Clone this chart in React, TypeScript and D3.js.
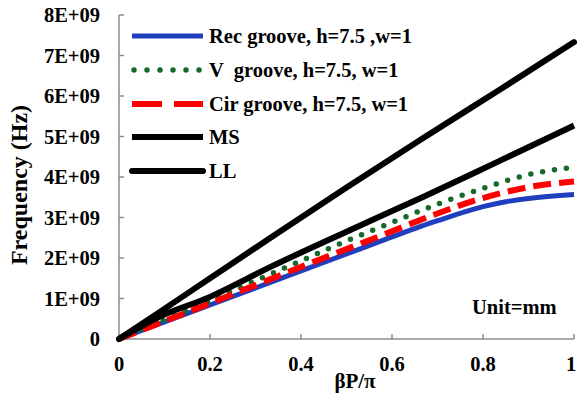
import React from "react";
import * as d3 from "d3";

const xTicks = [0, 0.2, 0.4, 0.6, 0.8, 1];
const xTickLabels = ["0", "0.2", "0.4", "0.6", "0.8", "1"];
const yTicks = [0, 1e9, 2e9, 3e9, 4e9, 5e9, 6e9, 7e9, 8e9];
const yTickLabels = ["0", "1E+09", "2E+09", "3E+09", "4E+09", "5E+09", "6E+09", "7E+09", "8E+09"];

const recX = [0, 0.1, 0.2, 0.3, 0.4, 0.5, 0.6, 0.7, 0.8, 0.85, 0.9, 1];
const recY = [0, 0.42, 0.84, 1.26, 1.68, 2.1, 2.52, 2.92, 3.27, 3.39, 3.47, 3.57];
const vX = [0, 0.1, 0.2, 0.3, 0.4, 0.5, 0.6, 0.7, 0.8, 0.9, 1];
const vY = [0, 0.47, 0.94, 1.44, 1.93, 2.42, 2.88, 3.33, 3.72, 4.06, 4.24];
const cirX = [0, 0.1, 0.2, 0.3, 0.4, 0.5, 0.6, 0.7, 0.8, 0.85, 0.9, 1];
const cirY = [0, 0.44, 0.88, 1.33, 1.78, 2.22, 2.66, 3.1, 3.48, 3.63, 3.75, 3.89];
const msX = [0, 0.083, 0.2, 0.333, 0.5, 0.667, 0.833, 1];
const msY = [0, 0.52, 1.04, 1.78, 2.65, 3.5, 4.38, 5.27];
const llX = [0, 0.083, 0.2, 0.333, 0.5, 0.667, 0.833, 1];
const llY = [0, 0.62, 1.5, 2.5, 3.74, 4.95, 6.13, 7.33];

const seriesNames = [
  "Rec groove, h=7.5 ,w=1",
  "V  groove, h=7.5, w=1",
  "Cir groove, h=7.5, w=1",
  "MS",
  "LL",
];

const FONT = "Liberation Serif";

export default function App() {
  const W = 577, H = 419;
  const x = d3.scaleLinear().domain([0, 1]).range([119, 574]);
  const y = d3.scaleLinear().domain([0, 8e9]).range([339, 15]);
  const line = d3
    .line<[number, number]>()
    .x((d) => x(d[0]))
    .y((d) => y(d[1] * 1e9))
    .curve(d3.curveMonotoneX);
  const mk = (xs: number[], ys: number[]) => xs.map((v, i) => [v, ys[i]] as [number, number]);

  const styles = [
    { stroke: "#1f3fbf", width: 5, dash: undefined as string | undefined, cap: "butt" },
    { stroke: "#17692a", width: 5.5, dash: "0 12", cap: "round" },
    { stroke: "#ff0000", width: 6, dash: "18 8", cap: "butt" },
    { stroke: "#000000", width: 6, dash: undefined, cap: "butt" },
    { stroke: "#000000", width: 6, dash: undefined, cap: "round" },
  ];
  const data = [mk(recX, recY), mk(vX, vY), mk(cirX, cirY), mk(msX, msY), mk(llX, llY)];
  const legendY = [36, 70, 104, 137, 171];
  const axisColor = "#8c8c8c";
  const txt = { fontFamily: FONT, fontWeight: "bold" as const };

  return (
    <svg width={W} height={H} style={{ position: "absolute", left: 0, top: 0, background: "#fff" }}>
      <rect x={0} y={0} width={W} height={H} fill="#fff" />
      <line x1={x(0)} x2={x(0)} y1={y(8e9)} y2={y(0)} stroke={axisColor} strokeWidth={1.5} />
      <line x1={x(0)} x2={x(1)} y1={y(0)} y2={y(0)} stroke={axisColor} strokeWidth={1.5} />
      {yTicks.map((t, i) => (
        <g key={"yt" + i}>
          <line x1={x(0)} x2={x(0) + 5} y1={y(t)} y2={y(t)} stroke={axisColor} strokeWidth={1.5} />
          <text x={100} y={y(t)} dy="0.35em" textAnchor="end" style={{ ...txt, fontSize: 20.5 }}>
            {yTickLabels[i]}
          </text>
        </g>
      ))}
      {xTicks.map((t, i) => (
        <g key={"xt" + i}>
          <line x1={x(t)} x2={x(t)} y1={y(0)} y2={y(0) - 5} stroke={axisColor} strokeWidth={1.5} />
          <text
            x={i === xTicks.length - 1 ? x(t) - 3 : x(t)}
            y={371}
            textAnchor="middle"
            style={{ ...txt, fontSize: 20.5 }}
          >
            {xTickLabels[i]}
          </text>
        </g>
      ))}
      {data.map((d, i) => (
        <path
          key={"s" + i}
          d={line(d) || ""}
          fill="none"
          stroke={styles[i].stroke}
          strokeWidth={styles[i].width}
          strokeDasharray={styles[i].dash}
          strokeLinecap={styles[i].cap as any}
          strokeLinejoin="round"
        />
      ))}
      {seriesNames.map((n, i) => (
        <g key={"lg" + i}>
          <line
            x1={i === 1 ? 134 : 132}
            x2={203}
            y1={legendY[i]}
            y2={legendY[i]}
            stroke={styles[i].stroke}
            strokeWidth={styles[i].width}
            strokeDasharray={i === 1 ? "0 13" : i === 2 ? "30 12" : undefined}
            strokeLinecap={styles[i].cap as any}
          />
          <text x={209} y={legendY[i]} dy="0.35em" style={{ ...txt, fontSize: 20.5, whiteSpace: "pre" }}>
            {n}
          </text>
        </g>
      ))}
      <text x={472} y={314} style={{ ...txt, fontSize: 20.5 }}>
        Unit=mm
      </text>
      <text x={355} y={388} textAnchor="middle" style={{ ...txt, fontSize: 21 }}>
        βP/π
      </text>
      <text transform="translate(27,185) rotate(-90)" textAnchor="middle" style={{ ...txt, fontSize: 24 }}>
        Frequency (Hz)
      </text>
    </svg>
  );
}
